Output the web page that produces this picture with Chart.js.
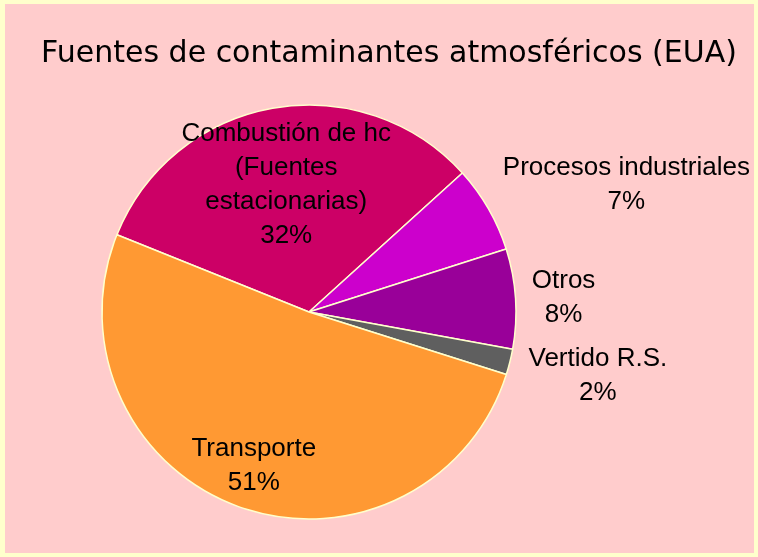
<!DOCTYPE html>
<html lang="es">
<head>
<meta charset="utf-8">
<title>Fuentes de contaminantes atmosféricos (EUA)</title>
<script src="https://cdn.jsdelivr.net/npm/chart.js@4"></script>
<style>
    html, body { margin: 0; padding: 0; background: #ffcccc; }
    #wrap { width: 758px; height: 557px; position: relative; }
</style>
</head>
<body>
<div id="wrap"><canvas id="pie" width="758" height="557"></canvas></div>
<script>
// Pie: sources of air pollutants (USA), values in percent.

const TITLE = 'Fuentes de contaminantes atmosféricos (EUA)';
const CATEGORIES = [
    ['Combustión de hc', '(Fuentes', 'estacionarias)'],
    ['Procesos industriales'],
    ['Otros'],
    ['Vertido R.S.'],
    ['Transporte'],
];
const VALUES = [32.2, 6.8, 7.8, 2.0, 51.2];
const COLORS = ['#cc0066', '#cc00cc', '#990099', '#5f5f5f', '#ff9933'];

// where each label goes: inside = fraction of radius on the mid angle,
// outside = offset from the rim point on the mid angle
const LABEL_POS = [
    { inside: 0.625 },
    { dx: 138, dy: -24 },
    { dx: 48, dy: -1 },
    { dx: 88, dy: 14 },
    { inside: 0.79 },
];

const FONT = '"Liberation Sans", Arial, sans-serif';
const LINE_H = 34;

const frame = {
    id: 'frame',
    beforeDraw(chart) {
        const { ctx, width, height } = chart;
        ctx.save();
        ctx.fillStyle = '#ffffcc';
        ctx.fillRect(0, 0, width, height);
        ctx.fillStyle = '#ffcccc';
        ctx.fillRect(5, 4, width - 9, height - 8);
        ctx.restore();
    },
    afterDraw(chart) {
        const { ctx } = chart;
        ctx.save();
        ctx.fillStyle = '#000';
        ctx.textAlign = 'center';
        ctx.textBaseline = 'middle';

        // title, sized so it spans the same width as the original
        const family = '"Comic Sans MS", "DejaVu Sans", sans-serif';
        ctx.font = `100px ${family}`;
        const size = Math.min(40, (695 / ctx.measureText(TITLE).width) * 100);
        ctx.font = `${size.toFixed(1)}px ${family}`;
        ctx.fillText(TITLE, 389, 54);

        // slice labels
        ctx.font = `26px ${FONT}`;
        const total = VALUES.reduce((a, b) => a + b, 0);
        chart.getDatasetMeta(0).data.forEach((arc, i) => {
            const { x, y, startAngle, endAngle, outerRadius } = arc.getProps(
                ['x', 'y', 'startAngle', 'endAngle', 'outerRadius'], true);
            const mid = (startAngle + endAngle) / 2;
            const pos = LABEL_POS[i];
            let cx, cy;
            if (pos.inside) {
                cx = x + Math.cos(mid) * outerRadius * pos.inside;
                cy = y + Math.sin(mid) * outerRadius * pos.inside;
            } else {
                cx = x + Math.cos(mid) * outerRadius + pos.dx;
                cy = y + Math.sin(mid) * outerRadius + pos.dy;
            }
            const lines = CATEGORIES[i].concat(`${Math.round((VALUES[i] / total) * 100)}%`);
            const top = cy - ((lines.length - 1) * LINE_H) / 2;
            lines.forEach((t, k) => ctx.fillText(t, cx, top + k * LINE_H));
        });
        ctx.restore();
    },
};

new Chart(document.getElementById('pie'), {
    type: 'pie',
    data: {
        labels: CATEGORIES.map((c) => c.join(' ')),
        datasets: [
            {
                data: VALUES,
                backgroundColor: COLORS,
                borderColor: '#ffffcc',
                borderWidth: 1.5,
            },
        ],
    },
    options: {
        responsive: false,
        animation: false,
        events: [],
        rotation: -68.1,
        radius: 207,
        layout: { padding: { left: 100, right: 240, top: 100, bottom: 33 } },
        plugins: {
            legend: { display: false },
            tooltip: { enabled: false },
            title: { display: false },
        },
    },
    plugins: [frame],
});
</script>
</body>
</html>
